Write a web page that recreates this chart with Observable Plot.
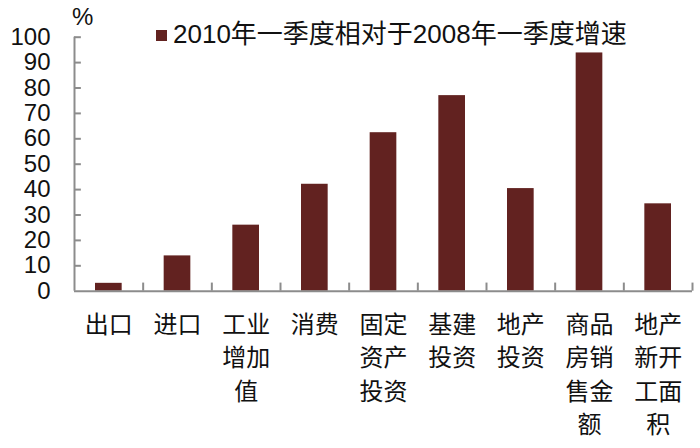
<!DOCTYPE html>
<html>
<head>
<meta charset="utf-8">
<script src="https://cdn.jsdelivr.net/npm/d3@7"></script>
<script src="https://cdn.jsdelivr.net/npm/@observablehq/plot@0.6"></script>
<style>
  html, body { margin: 0; padding: 0; background: #fff; }
  #wrap { position: relative; width: 700px; height: 448px; overflow: hidden;
          font-family: "Liberation Sans", Arial, "Noto Sans CJK SC", sans-serif; }
  #chart { position: absolute; left: 0; top: 0; }
  .legend-swatch { position: absolute; left: 156px; top: 30px; width: 11px; height: 11px; background: #622220; }
  .legend-text { position: absolute; left: 173px; top: 21px; font-size: 26px; line-height: 26px; color: #111; white-space: nowrap; }
  .unit { position: absolute; left: 72px; top: 5px; font-size: 24px; line-height: 24px; color: #111; }
</style>
</head>
<body>
<div id="wrap">
  <div id="chart"></div>
  <div class="unit">%</div>
  <div class="legend-swatch"></div>
  <div class="legend-text" id="legend"></div>
</div>
<script>
const seriesName = "2010年一季度相对于2008年一季度增速";
const categories = ["出口", "进口", "工业\n增加\n值", "消费", "固定\n资产\n投资", "基建\n投资", "地产\n投资", "商品\n房销\n售金\n额", "地产\n新开\n工面\n积"];
const values = [3.1, 13.9, 26.0, 42.1, 62.4, 77.0, 40.4, 93.8, 34.4];
const yTicks = [0, 10, 20, 30, 40, 50, 60, 70, 80, 90, 100];

const rows = categories.map((c, i) => ({label: c, idx: i, value: values[i]}));
const boundaries = d3.range(1, categories.length + 1);
const yTickMarks = yTicks.filter(v => v > 0);

const barColor = "#622220";
const axisColor = "#8c8c8c";

document.getElementById("legend").textContent = seriesName;

// inward tick lengths expressed in data units (x: 9 bands over 618px, y: 100 over ~254px)
const yTickLen = 0.1;   // along x
const xTickLen = 3.2;   // along y

const chart = Plot.plot({
  width: 700,
  height: 448,
  marginLeft: 74,
  marginRight: 8,
  marginTop: 36.7,
  marginBottom: 157.3,
  x: {domain: [0, categories.length], axis: null},
  y: {domain: [0, 100], axis: null},
  style: {fontFamily: '"Liberation Sans", Arial, "Noto Sans CJK SC", sans-serif', background: "#fff", color: "#111"},
  marks: [
    Plot.rectY(rows, {x1: d => d.idx, x2: d => d.idx + 1, y: "value", insetLeft: 21, insetRight: 21, fill: barColor}),
    Plot.ruleY(yTickMarks, {x1: 0, x2: yTickLen, stroke: axisColor, strokeWidth: 2}),
    Plot.ruleX(boundaries, {y1: 0, y2: xTickLen, stroke: axisColor, strokeWidth: 2}),
    Plot.ruleX([0], {y1: 0, y2: 100, stroke: axisColor, strokeWidth: 2}),
    Plot.ruleY([0], {stroke: axisColor, strokeWidth: 2}),
    Plot.axisY({ticks: yTicks, tickSize: 0, tickPadding: 24, fontSize: 24, label: null, fill: "#111"}),
    Plot.text(rows, {x: d => d.idx + 0.5, text: "label", frameAnchor: "bottom", lineAnchor: "top", dy: 18, fontSize: 24, lineHeight: 1.39, fill: "#111"})
  ]
});
document.getElementById("chart").appendChild(chart);
</script>
</body>
</html>
